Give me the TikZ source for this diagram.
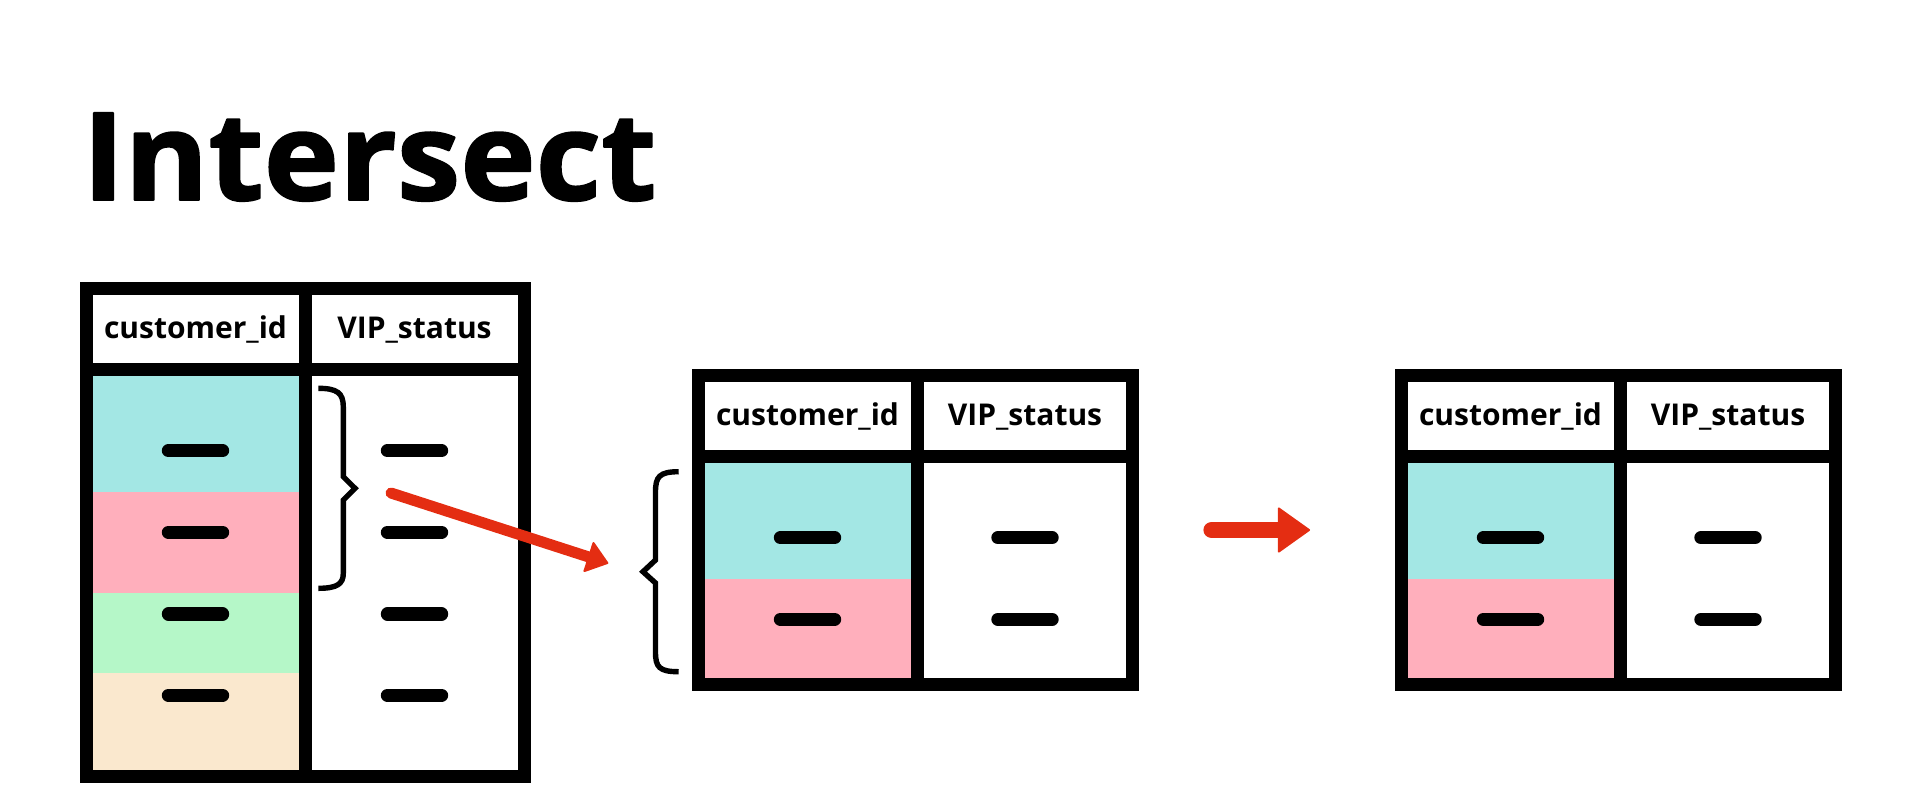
\documentclass[tikz,border=0pt]{standalone}
\usepackage{fontspec}
\setmainfont{Open Sans}
\newfontfamily\titlefont{Open Sans}[FakeBold=1.5]
\usetikzlibrary{arrows.meta}
\definecolor{cyanrow}{RGB}{163,231,228}
\definecolor{pinkrow}{RGB}{255,175,188}
\definecolor{greenrow}{RGB}{181,247,200}
\definecolor{beigerow}{RGB}{250,232,206}
\definecolor{arrowred}{RGB}{228,45,18}
\begin{document}
\begin{tikzpicture}[x=0.5pt,y=-0.5pt,line join=round,line cap=round,
	tbl/.style={line width=6.5pt,line cap=butt,line join=miter},
	cellbar/.style={line width=6.6pt},
	hdr/.style={font=\bfseries\fontsize{15}{18}\selectfont,inner sep=0pt,anchor=base},
	brace/.style={line width=2.7pt,line join=miter,line cap=butt},
	redarr/.style={draw=arrowred,line width=#1}]
	\useasboundingbox (0,0) rectangle (1920,800);
	\node[font=\titlefont\bfseries\fontsize{61}{70}\selectfont,inner sep=0pt,anchor=base west] (title) at (82,200) {\scalebox{1.045}[1]{Intersect}};
	%bảng 1
	\fill[cyanrow] (86,369.5) rectangle (305,491.7);
	\fill[pinkrow] (86,491.7) rectangle (305,593);
	\fill[greenrow] (86,593) rectangle (305,672.7);
	\fill[beigerow] (86,672.7) rectangle (305,776.5);
	\draw[tbl] (86,288) rectangle (524,776.5) (305,288)--(305,776.5) (86,369.5)--(524,369.5);
	\node[hdr] (ca) at (195.5,338.3) {customer\_id};
	\node[hdr] (va) at (414.5,338.3) {VIP\_status};
	\draw[cellbar] (168.4,450.7)--(222.6,450.7) (387.4,450.7)--(441.6,450.7);
	\draw[cellbar] (168.4,532.3)--(222.6,532.3) (387.4,532.3)--(441.6,532.3);
	\draw[cellbar] (168.4,614)--(222.6,614) (387.4,614)--(441.6,614);
	\draw[cellbar] (168.4,695.3)--(222.6,695.3) (387.4,695.3)--(441.6,695.3);
	%ngoặc
	\draw[brace] (318.3,388.3) ..controls (337,388.3) and (343.3,393) .. (343.3,406.7)--(343.3,476.7)--(355,488.3)--(343.3,500)--(343.3,573.3) ..controls (343.3,584) and (337,588.3) .. (318.3,588.3);
	\coordinate (a1s) at (391,493);
	\coordinate (a1e) at (608.3,563.3);
	\draw[redarr=5.5pt,-{Triangle[length=11pt,width=16.5pt,round,line width=1pt]}] (a1s)--(a1e);
	%bảng 2, 3
	\foreach \dx/\t in {612/b,1315/c}{
		\begin{scope}[shift={(\dx,87)}]
			\fill[cyanrow] (86,369.5) rectangle (305,491.7);
			\fill[pinkrow] (86,491.7) rectangle (305,597);
			\draw[tbl] (86,288) rectangle (520,597) (305,288)--(305,597) (86,369.5)--(520,369.5);
			\node[hdr] (c\t) at (195.5,338.3) {customer\_id};
			\node[hdr] (v\t) at (413,338.3) {VIP\_status};
			\draw[cellbar] (168.4,450.7)--(222.6,450.7) (385.9,450.7)--(440.1,450.7);
			\draw[cellbar] (168.4,532.3)--(222.6,532.3) (385.9,532.3)--(440.1,532.3);
		\end{scope}
	}
	\draw[brace] (678.7,471.7) ..controls (659,471.7) and (655.5,477) .. (655.5,492)--(655.5,560)--(643,571.7)--(655.5,583)--(655.5,652) ..controls (655.5,667) and (659,671.7) .. (678.7,671.7);
	\coordinate (a2s) at (1211.7,530);
	\coordinate (a2e) at (1310,530);
	\draw[redarr=8.3pt,-{Triangle[length=16.5pt,width=23.3pt,round,line width=1pt]}] (a2s)--(a2e);
\end{tikzpicture}
\end{document}
